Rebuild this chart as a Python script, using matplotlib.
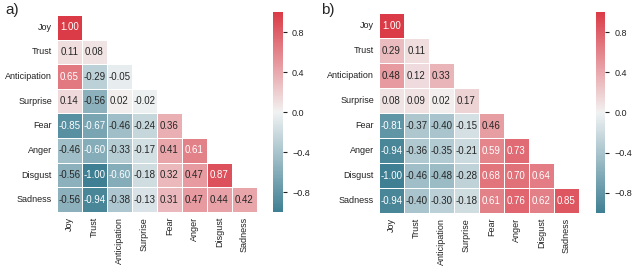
import numpy as np
import matplotlib
matplotlib.use("Agg")
import matplotlib.pyplot as plt
import seaborn as sns

sns.set_style("white")
plt.rcParams['font.family'] = ['Liberation Sans', 'DejaVu Sans']

emotions = ["Joy", "Trust", "Anticipation", "Surprise", "Fear", "Anger", "Disgust", "Sadness"]

# lower triangle rows of panel a)
rows_a = [
    [1.00],
    [0.11, 0.08],
    [0.65, -0.29, -0.05],
    [0.14, -0.56, 0.02, -0.02],
    [-0.85, -0.67, -0.46, -0.24, 0.36],
    [-0.46, -0.60, -0.33, -0.17, 0.41, 0.61],
    [-0.56, -1.00, -0.60, -0.18, 0.32, 0.47, 0.87],
    [-0.56, -0.94, -0.38, -0.13, 0.31, 0.47, 0.44, 0.42],
]

# lower triangle rows of panel b)
rows_b = [
    [1.00],
    [0.29, 0.11],
    [0.48, 0.12, 0.33],
    [0.08, 0.09, 0.02, 0.17],
    [-0.81, -0.37, -0.40, -0.15, 0.46],
    [-0.94, -0.36, -0.35, -0.21, 0.59, 0.73],
    [-1.00, -0.46, -0.48, -0.28, 0.68, 0.70, 0.64],
    [-0.94, -0.40, -0.30, -0.18, 0.61, 0.76, 0.62, 0.85],
]

cbar_ticks = [0.8, 0.4, 0.0, -0.4, -0.8]


def to_matrix(rows):
    n = len(rows)
    m = np.zeros((n, n))
    for i, r in enumerate(rows):
        m[i, :len(r)] = r
    return m


mask = np.triu(np.ones((8, 8), dtype=bool), k=1)
cmap = sns.diverging_palette(220, 10, as_cmap=True)

fig = plt.figure(figsize=(6.4, 2.71), dpi=100)

panels = [
    (rows_a, "a)", [0.089, 0.2177, 0.3125, 0.727], [0.4266, 0.2177, 0.0156, 0.738], 0.009),
    (rows_b, "b)", [0.592, 0.214, 0.3125, 0.738], [0.931, 0.214, 0.0148, 0.742], 0.502),
]

for rows, label, hm_pos, cb_pos, lx in panels:
    ax = fig.add_axes(hm_pos)
    cax = fig.add_axes(cb_pos)
    sns.heatmap(to_matrix(rows), mask=mask, cmap=cmap, vmin=-1, vmax=1,
                annot=True, fmt=".2f", annot_kws={"size": 7},
                linewidths=0.5, linecolor="white",
                xticklabels=emotions, yticklabels=emotions,
                ax=ax, cbar_ax=cax, cbar_kws={"ticks": cbar_ticks})
    ax.tick_params(axis="both", labelsize=6.5, length=0, labelcolor="#222222")
    ax.set_xticklabels(emotions, rotation=90)
    ax.set_yticklabels(emotions, rotation=0)
    cax.tick_params(labelsize=6.5, length=3, width=0.8, color="#222222", labelcolor="#222222")
    cax.set_yticklabels([f"{t:.1f}".replace("-", "\u2212") for t in cbar_ticks])
    for s in cax.spines.values():
        s.set_visible(False)
    fig.text(lx, 0.99, label, fontsize=11, ha="left", va="top")

fig.savefig("out.png", dpi=100)
